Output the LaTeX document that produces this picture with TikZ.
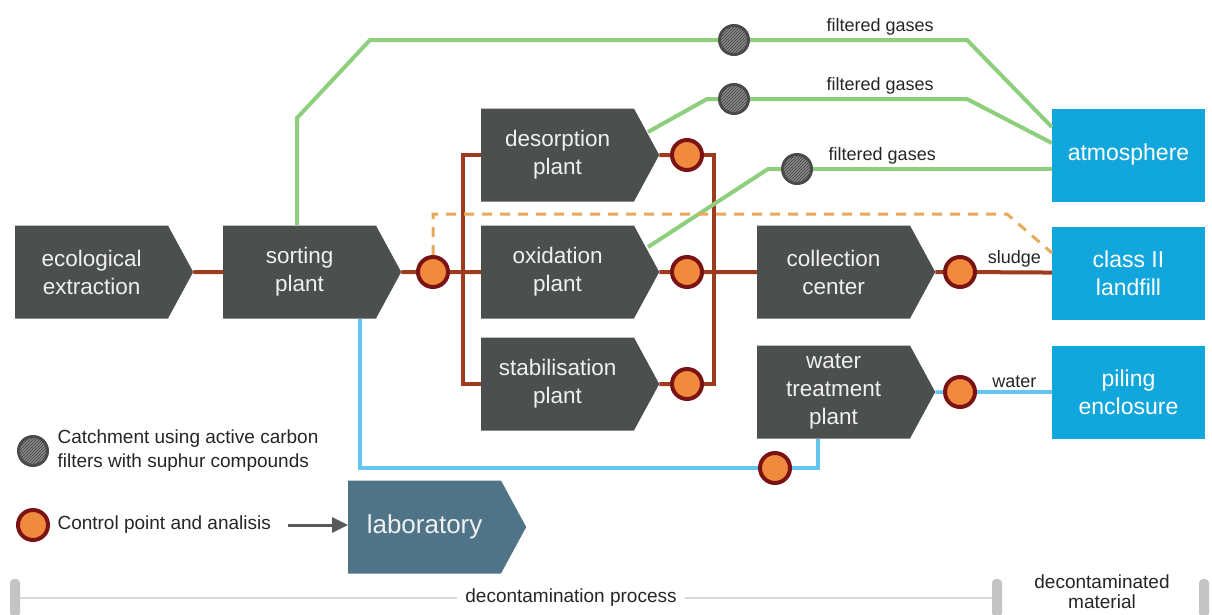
\documentclass[tikz,border=0pt]{standalone}
\usepackage{fontspec}
\setmainfont{Liberation Sans}
\usetikzlibrary{shapes.symbols,patterns,arrows.meta}
\definecolor{boxgrey}{HTML}{4B4F4E}
\definecolor{sinkblue}{HTML}{12A7DC}
\definecolor{labblue}{HTML}{4F7487}
\definecolor{sludgebrown}{HTML}{9E3A1E}
\definecolor{gasgreen}{HTML}{8DCF7C}
\definecolor{waterblue}{HTML}{62C6EF}
\definecolor{probeorange}{HTML}{E8A95A}
\definecolor{ctrlfill}{HTML}{F08A3C}
\definecolor{ctrlring}{HTML}{7B1214}
\definecolor{filtfill}{HTML}{8C8C8C}
\definecolor{filtring}{HTML}{4A4A4A}
\definecolor{timegrey}{HTML}{D9D9D9}
\definecolor{bargrey}{HTML}{C4C4C4}
\tikzset{
	procbox/.style={signal, signal to=east, signal pointer angle=123, fill=boxgrey, text=white!94!black,
		minimum width=178pt, minimum height=93pt, inner sep=0pt, align=center,
		font=\fontsize{22.5}{28}\selectfont},
	sinkbox/.style={rectangle, fill=sinkblue, text=white, minimum width=153pt, minimum height=93pt,
		inner sep=0pt, align=center, font=\fontsize{23}{28}\selectfont},
	labbox/.style={procbox, fill=labblue, font=\fontsize{26}{30}\selectfont},
	ctrl/.style={circle, fill=ctrlfill, draw=ctrlring, line width=4pt, minimum size=30pt, inner sep=0pt},
	filt/.style={circle, preaction={fill=filtfill}, pattern=north east lines, pattern color=filtring!80!black,
		draw=filtring, line width=3pt, minimum size=29pt, inner sep=0pt},
	sludgeline/.style={draw=sludgebrown, line width=4pt},
	gasline/.style={draw=gasgreen, line width=4pt},
	waterline/.style={draw=waterblue, line width=3.5pt},
	sampleline/.style={draw=probeorange, line width=3pt, dash pattern=on 10pt off 8pt},
	flowlabel/.style={font=\fontsize{18}{20}\selectfont, text=black!85, inner sep=3pt},
	legtext/.style={font=\fontsize{19}{24}\selectfont, text=black!85, align=left, anchor=west},
	tickbar/.style={rectangle, rounded corners=4pt, fill=bargrey, minimum width=10pt, minimum height=38pt, inner sep=0pt},
}
\begin{document}
\begin{tikzpicture}[x=1pt,y=-1pt]
	\useasboundingbox[fill=white] (0,0) rectangle (1212,614);
	% process chain
	\node[procbox, anchor=west] (eco) at (15,272) {ecological\\extraction};
	\node[procbox, anchor=west] (sort) at (223,272) {sorting\\plant};
	\node[procbox, anchor=west] (desorp) at (481,155) {desorption\\plant};
	\node[procbox, anchor=west] (oxid) at (481,272) {oxidation\\plant};
	\node[procbox, anchor=west] (stab) at (481,384) {stabilisation\\plant};
	\node[procbox, anchor=west] (coll) at (757,272) {collection\\center};
	\node[procbox, anchor=west] (water) at (757,392) {water\\treatment\\plant};
	\node[sinkbox] (atmo) at (1128.5,155) {atmosphere};
	\node[sinkbox] (landfill) at (1128.5,273) {class II\\landfill};
	\node[sinkbox] (piling) at (1128.5,392) {piling\\enclosure};
	\node[labbox, anchor=west] (lab) at (348,527) {laboratory};
	% control points and filters
	\node[ctrl] (cp1) at (433,272) {};
	\node[ctrl] (cpd) at (687,155) {};
	\node[ctrl] (cpo) at (687,272) {};
	\node[ctrl] (cps) at (687,384) {};
	\node[ctrl] (cpc) at (960,272) {};
	\node[ctrl] (cpw) at (960,392) {};
	\node[ctrl] (cpb) at (775,468) {};
	\node[filt] (f1) at (734,40) {};
	\node[filt] (f2) at (734,99) {};
	\node[filt] (f3) at (797,169) {};
	\coordinate (lbus) at (463,272);
	\coordinate (rbus) at (714,272);
	\coordinate (wl) at (360,468);
	\coordinate (wr) at (818,468);
	\coordinate (ga) at (297,118);
	\coordinate (gb) at (370,40);
	\coordinate (gc) at (967,40);
	\coordinate (dtip) at (648,132);
	\coordinate (gf) at (707,99);
	\coordinate (gg) at (967,99);
	\coordinate (otip) at (648,247);
	\coordinate (gh) at (768,169);
	\coordinate (da) at (1007,214);
	\coordinate (db) at (1052,253);
	% sludge
	\draw[sludgeline] (eco) -- (sort);
	\draw[sludgeline] (sort) -- (cp1);
	\draw[sludgeline] (cp1) -- (oxid);
	\draw[sludgeline] (desorp.west) -- (desorp.west -| lbus) -- (stab.west -| lbus) -- (stab.west);
	\draw[sludgeline] (desorp) -- (cpd);
	\draw[sludgeline] (oxid) -- (cpo);
	\draw[sludgeline] (stab) -- (cps);
	\draw[sludgeline] (cpd) -- (cpd -| rbus) -- (cps -| rbus) -- (cps);
	\draw[sludgeline] (cpo) -- (coll);
	\draw[sludgeline] (coll) -- (cpc);
	\draw[sludgeline] (cpc) -- node[flowlabel, above] {sludge} (landfill);
	% water
	\draw[waterline] (sort.south -| wl) -- (wl) -- (cpb);
	\draw[waterline] (cpb) -- (wr) -- (water.south -| wr);
	\draw[waterline] (water) -- (cpw);
	\draw[waterline] (cpw) -- node[flowlabel, above] {water} (piling);
	% gases
	\draw[gasline] (sort.north -| ga) -- (ga) -- (gb) -- (f1);
	\draw[gasline] (f1) -- node[flowlabel, above, pos=0.6] {filtered gases} (gc) -- ([yshift=28pt]atmo.west);
	\draw[gasline] (dtip) -- (gf) -- (f2);
	\draw[gasline] (f2) -- node[flowlabel, above, pos=0.6] {filtered gases} (gg) -- ([yshift=12pt]atmo.west);
	\draw[gasline] (otip) -- (gh) -- (f3);
	\draw[gasline] (f3) -- node[flowlabel, above, pos=0.29] {filtered gases} ([yshift=-14pt]atmo.west);
	% samples
	\draw[sampleline] (cp1) -- (cp1 |- da) -- (da) -- (db);
	% legend
	\node[filt] (legf) at (33,451) {};
	\node[legtext] (legftext) at (54,451) {Catchment using active carbon\\filters with suphur compounds};
	\node[ctrl] (legc) at (33,525) {};
	\node[legtext] (legctext) at (54,525) {Control point and analisis};
	\draw[black!65, line width=3pt, -{Triangle[length=16pt,width=15pt]}] ([xshift=14pt]legctext.east) -- (legctext.east -| lab.west);
	% time line
	\node[tickbar] (bar1) at (15,598) {};
	\node[tickbar] (bar2) at (997,598) {};
	\node[tickbar] (bar3) at (1204,598) {};
	\node[fill=white, font=\fontsize{19}{22}\selectfont, text=black!85, inner sep=8pt] (proc) at (571,598) {decontamination process};
	\node[font=\fontsize{19}{20}\selectfont, text=black!85, align=center] (done) at (1102,592) {decontaminated\\material};
	\draw[timegrey, line width=2pt] (bar1) -- (proc);
	\draw[timegrey, line width=2pt] (proc) -- (bar2);
\end{tikzpicture}
\end{document}
